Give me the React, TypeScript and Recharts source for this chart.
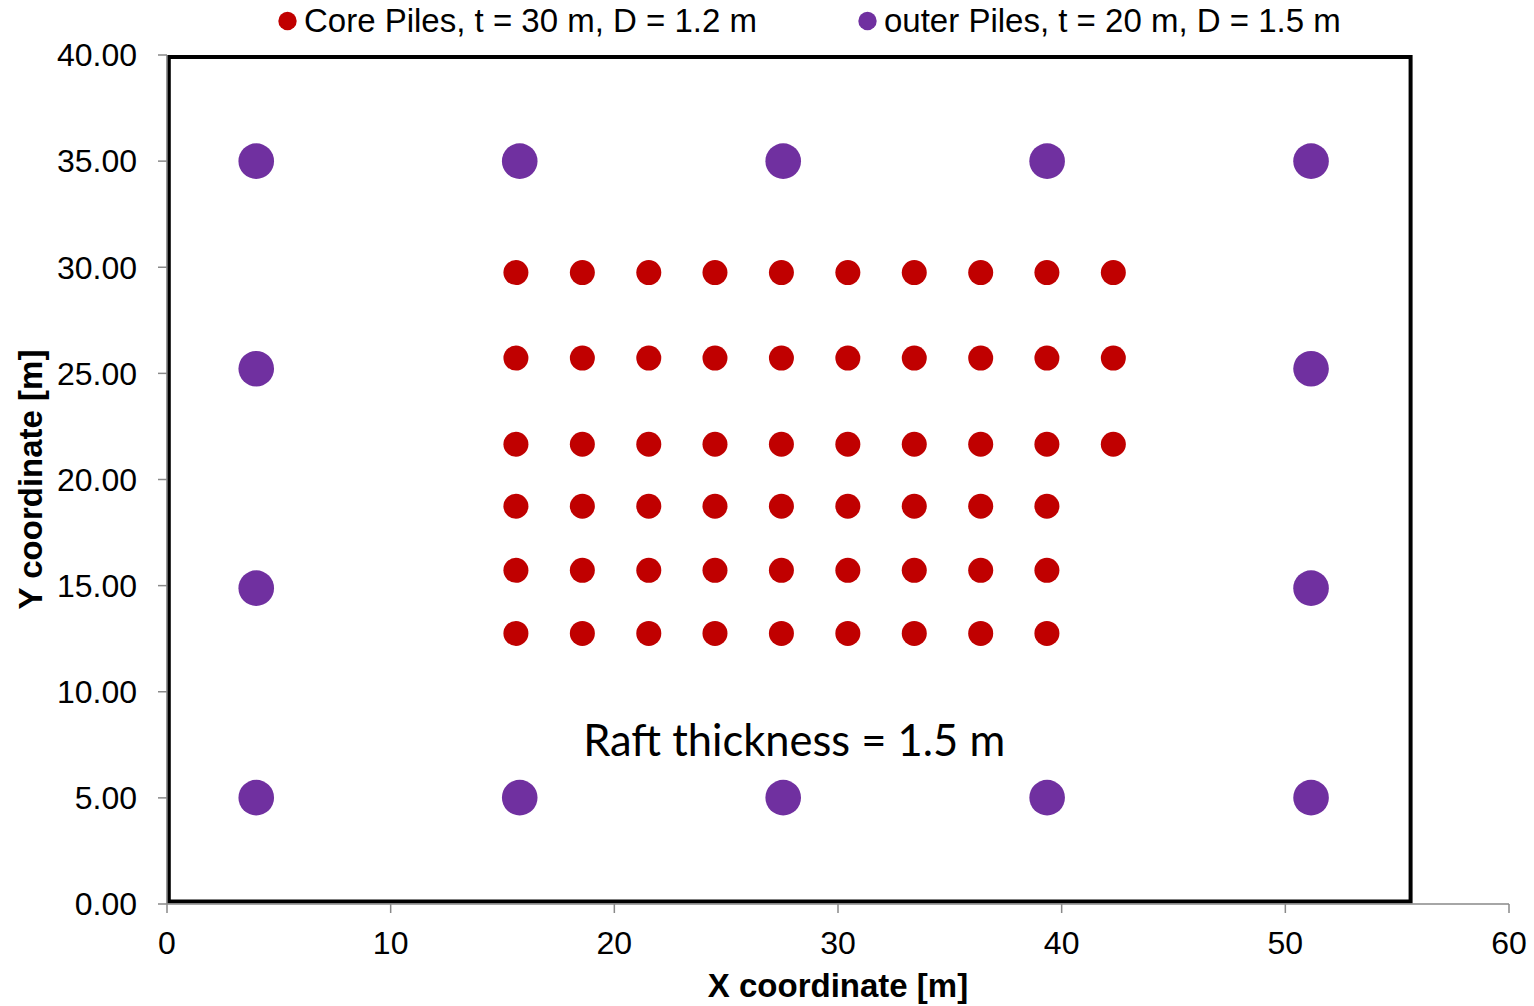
import React from 'react';
import { ScatterChart, Scatter, XAxis, YAxis, ReferenceArea, ReferenceDot, Legend } from 'recharts';

// Core pile grid
const coreX = [15.6, 18.57, 21.54, 24.5, 27.47, 30.44, 33.41, 36.38, 39.34, 42.31];
const coreRowsLong = [29.75, 25.72, 21.66]; // rows with 10 piles
const coreRowsShort = [18.74, 15.72, 12.75]; // rows with 9 piles

// Outer piles
const outerX = [3.99, 15.77, 27.55, 39.35, 51.15];
const outerRowsFull = [35.0, 5.01]; // top and bottom rows
const outerEdgeX = [3.99, 51.15];
const outerRowsEdge = [25.22, 14.88]; // left/right middle piles

// Raft outline and annotation
const raftX = [0.08, 55.6];
const raftY = [0.12, 39.9];
const raftLabel = { x: 28.04, y: 6.95, text: 'Raft thickness = 1.5 m' };

const xTicks = [0, 10, 20, 30, 40, 50, 60];
const yTicks = [0, 5, 10, 15, 20, 25, 30, 35, 40];

const coreName = 'Core Piles, t = 30 m, D = 1.2 m';
const outerName = 'outer Piles, t = 20 m, D = 1.5 m';

const coreData: { x: number; y: number }[] = [];
coreRowsLong.forEach((y) => coreX.forEach((x) => coreData.push({ x, y })));
coreRowsShort.forEach((y) => coreX.slice(0, 9).forEach((x) => coreData.push({ x, y })));

const outerData: { x: number; y: number }[] = [];
outerRowsFull.forEach((y) => outerX.forEach((x) => outerData.push({ x, y })));
outerRowsEdge.forEach((y) => outerEdgeX.forEach((x) => outerData.push({ x, y })));

const FONT = '"Liberation Sans", Arial, sans-serif';
const RED = '#C00000';
const PURPLE = '#7030A0';
const AXIS = '#898989';

const LegendContent = () => (
  <svg width={1534} height={45} style={{ display: 'block' }}>
    <circle cx={287.5} cy={21} r={9.2} fill={RED} />
    <text x={304} y={32} fontSize={33} fontFamily={FONT} fill="#000">{coreName}</text>
    <circle cx={867.5} cy={21} r={9.2} fill={PURPLE} />
    <text x={884} y={32} fontSize={33} fontFamily={FONT} fill="#000">{outerName}</text>
  </svg>
);

const XLabel = (props: any) => {
  const vb = props.viewBox || { x: 167, y: 904, width: 1342, height: 102 };
  return (
    <text x={vb.x + vb.width / 2} y={vb.y + 93} textAnchor="middle" fontSize={33} fontWeight="bold" fontFamily={FONT} fill="#000">
      X coordinate [m]
    </text>
  );
};

const YLabel = (props: any) => {
  const vb = props.viewBox || { x: 0, y: 55, width: 167, height: 849 };
  const cx = 42;
  const cy = vb.y + vb.height / 2;
  return (
    <text x={cx} y={cy} transform={`rotate(-90, ${cx}, ${cy})`} textAnchor="middle" fontSize={33} fontWeight="bold" fontFamily={FONT} fill="#000">
      Y coordinate [m]
    </text>
  );
};

export default function App() {
  return (
    <div style={{ position: 'absolute', left: 0, top: 0, width: 1534, height: 1006, background: '#fff' }}>
      <ScatterChart width={1534} height={1006} margin={{ top: 55, right: 25, bottom: 0, left: 0 }}>
        <XAxis
          type="number"
          dataKey="x"
          domain={[0, 60]}
          ticks={xTicks}
          height={102}
          tickSize={9}
          tickMargin={18}
          axisLine={{ stroke: AXIS, strokeWidth: 1.5 }}
          tickLine={{ stroke: AXIS, strokeWidth: 1.5 }}
          tick={{ fill: '#000', fontSize: 32, fontFamily: FONT }}
          allowDataOverflow
          label={{ content: XLabel }}
        />
        <YAxis
          type="number"
          dataKey="y"
          domain={[0, 40]}
          ticks={yTicks}
          width={167}
          tickSize={9}
          tickMargin={21}
          axisLine={{ stroke: AXIS, strokeWidth: 1.5 }}
          tickLine={{ stroke: AXIS, strokeWidth: 1.5 }}
          tick={{ fill: '#000', fontSize: 32, fontFamily: FONT }}
          tickFormatter={(v: number) => v.toFixed(2)}
          allowDataOverflow
          label={{ content: YLabel }}
        />
        <ReferenceArea
          x1={raftX[0]}
          x2={raftX[1]}
          y1={raftY[0]}
          y2={raftY[1]}
          stroke="#000"
          strokeWidth={4}
          fill="none"
          fillOpacity={0}
          ifOverflow="visible"
        />
        <ReferenceDot
          x={raftLabel.x}
          y={raftLabel.y}
          r={0}
          ifOverflow="visible"
          shape={(p: any) => (
            <text
              x={p.cx}
              y={p.cy}
              textAnchor="middle"
              fontSize={45}
              fontFamily='Lato, "Open Sans", sans-serif'
              textLength={422}
              lengthAdjust="spacingAndGlyphs"
              fill="#000"
            >
              {raftLabel.text}
            </text>
          )}
        />
        <Scatter
          name={coreName}
          data={coreData}
          fill={RED}
          isAnimationActive={false}
          shape={(p: any) => <circle cx={p.cx} cy={p.cy} r={12.5} fill={RED} />}
        />
        <Scatter
          name={outerName}
          data={outerData}
          fill={PURPLE}
          isAnimationActive={false}
          shape={(p: any) => <circle cx={p.cx} cy={p.cy} r={17.8} fill={PURPLE} />}
        />
        <Legend
          layout="horizontal"
          verticalAlign="middle"
          align="center"
          content={LegendContent}
          wrapperStyle={{ top: 0, left: 0, width: 1534, height: 45 }}
        />
      </ScatterChart>
    </div>
  );
}
